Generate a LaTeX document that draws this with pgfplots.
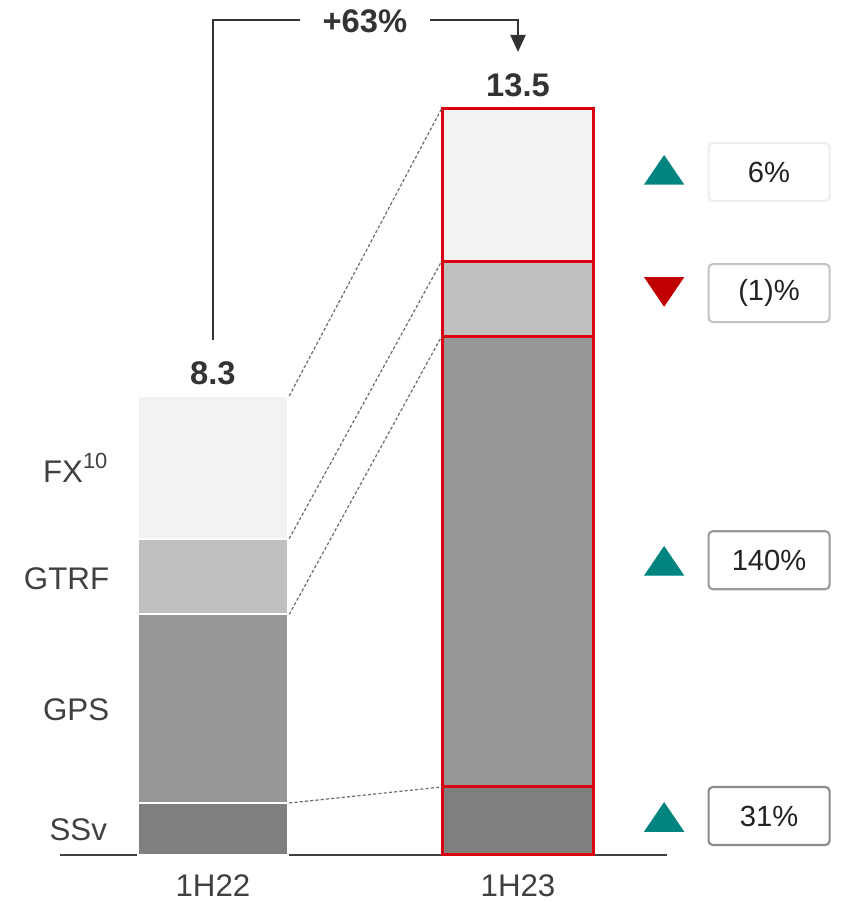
\documentclass[border=0pt]{standalone}
\usepackage{pgfplots}
\pgfplotsset{compat=1.18}
\usepackage{fontspec}
\setmainfont{Liberation Sans}
\usetikzlibrary{arrows.meta}
\definecolor{fxc}{HTML}{F2F2F2}
\definecolor{gtrfc}{HTML}{C0C0C0}
\definecolor{gpsc}{HTML}{979797}
\definecolor{ssvc}{HTML}{7F7F7F}
\definecolor{hred}{HTML}{DB0011}
\definecolor{downred}{HTML}{C00000}
\definecolor{upteal}{HTML}{00847F}
\definecolor{labc}{HTML}{404040}
\definecolor{valc}{HTML}{333333}
\definecolor{txtc}{HTML}{222222}
\definecolor{boxa}{HTML}{EEEEEE}
\definecolor{boxb}{HTML}{C4C4C4}
\definecolor{boxc}{HTML}{9A9A9A}
\definecolor{boxd}{HTML}{8A8A8A}
\definecolor{dashc}{HTML}{707070}
\newcommand\labfont{\fontsize{8.9}{10}\selectfont}
\newcommand\valfont{\fontsize{9.3}{11}\selectfont\bfseries}
\newcommand\pctfont{\fontsize{8.3}{10}\selectfont}
\begin{document}
\begin{tikzpicture}
\begin{axis}[
  scale only axis, width=8.45cm, height=9.02cm,
  xmin=-0.698, xmax=2.072, ymin=-0.85, ymax=15.46,
  hide axis, clip=false]
% invisible frame to fix the bounding box
\path (rel axis cs:0,0) rectangle (rel axis cs:1,1);
% baseline
\addplot[labc, line width=0.57pt, forget plot] coordinates {(-0.502,0) (1.49,0)};
% bar 1H22 (cumulative tops, painted from the top segment down)
\addplot[ybar, bar width=0.492, bar shift=0pt, fill=fxc, draw=white, line width=0.6pt] coordinates {(0,8.30)};
\addplot[ybar, bar width=0.492, bar shift=0pt, fill=gtrfc, draw=white, line width=0.6pt] coordinates {(0,5.72)};
\addplot[ybar, bar width=0.492, bar shift=0pt, fill=gpsc, draw=white, line width=0.6pt] coordinates {(0,4.35)};
\addplot[ybar, bar width=0.492, bar shift=0pt, fill=ssvc, draw=white, line width=0.6pt] coordinates {(0,0.94)};
% bar 1H23
\addplot[ybar, bar width=0.492, bar shift=0pt, fill=fxc, draw=hred, line width=0.85pt] coordinates {(1,13.50)};
\addplot[ybar, bar width=0.492, bar shift=0pt, fill=gtrfc, draw=hred, line width=0.85pt] coordinates {(1,10.74)};
\addplot[ybar, bar width=0.492, bar shift=0pt, fill=gpsc, draw=hred, line width=0.85pt] coordinates {(1,9.38)};
\addplot[ybar, bar width=0.492, bar shift=0pt, fill=ssvc, draw=hred, line width=0.85pt] coordinates {(1,1.23)};
% dashed connectors
\addplot[dashc, line width=0.35pt, dash pattern=on 0.9pt off 0.6pt] coordinates {(0.250,8.30) (0.750,13.50)};
\addplot[dashc, line width=0.35pt, dash pattern=on 0.9pt off 0.6pt] coordinates {(0.250,5.72) (0.750,10.74)};
\addplot[dashc, line width=0.35pt, dash pattern=on 0.9pt off 0.6pt] coordinates {(0.250,4.35) (0.750,9.38)};
\addplot[dashc, line width=0.35pt, dash pattern=on 0.9pt off 0.6pt] coordinates {(0.250,0.94) (0.750,1.23)};
% change markers
\addplot[only marks, mark=triangle*, mark size=6.2pt, color=upteal, mark options={yscale=0.85}] coordinates {(1.479,12.30) (1.479,5.23) (1.479,0.60)};
\addplot[only marks, mark=triangle*, mark size=6.2pt, color=downred, mark options={yscale=0.85, rotate=180}] coordinates {(1.479,10.27)};
% bracket with growth
\draw[valc, line width=0.57pt] (axis cs:0,9.31) |- (axis cs:0.285,15.10);
\draw[valc, line width=0.57pt, -{Triangle[length=1.7mm, width=1.5mm]}] (axis cs:0.711,15.10) -| (axis cs:1,14.52);
\node[text=valc, font=\valfont, inner sep=0pt] at (axis cs:0.498,15.08) {+63\%};
% totals
\node[text=valc, font=\valfont, inner sep=0pt] at (axis cs:0,8.71) {8.3};
\node[text=valc, font=\valfont, inner sep=0pt] at (axis cs:1,13.92) {13.5};
% category labels
\node[anchor=east, text=labc, font=\labfont, inner sep=0pt] at (axis cs:-0.338,7.0) {FX\textsuperscript{10}};
\node[anchor=east, text=labc, font=\labfont, inner sep=0pt] at (axis cs:-0.338,4.99) {GTRF};
\node[anchor=east, text=labc, font=\labfont, inner sep=0pt] at (axis cs:-0.338,2.62) {GPS};
\node[anchor=east, text=labc, font=\labfont, inner sep=0pt] at (axis cs:-0.345,0.45) {SSv};
% period labels
\node[text=labc, font=\labfont, inner sep=0pt] at (axis cs:0,-0.55) {1H22};
\node[text=labc, font=\labfont, inner sep=0pt] at (axis cs:1,-0.55) {1H23};
% percentage boxes
\tikzset{pbox/.style={line width=0.6pt, rounded corners=1.2pt, minimum width=12.1mm, minimum height=5.8mm, inner sep=0pt, outer sep=0pt, fill=white, text=txtc, font=\pctfont}}
\node[pbox, draw=boxa] at (axis cs:1.823,12.35) {6\%};
\node[pbox, draw=boxb] at (axis cs:1.823,10.16) {(1)\%};
\node[pbox, draw=boxc] at (axis cs:1.823,5.33) {140\%};
\node[pbox, draw=boxd] at (axis cs:1.823,0.705) {31\%};
\end{axis}
\end{tikzpicture}
\end{document}
